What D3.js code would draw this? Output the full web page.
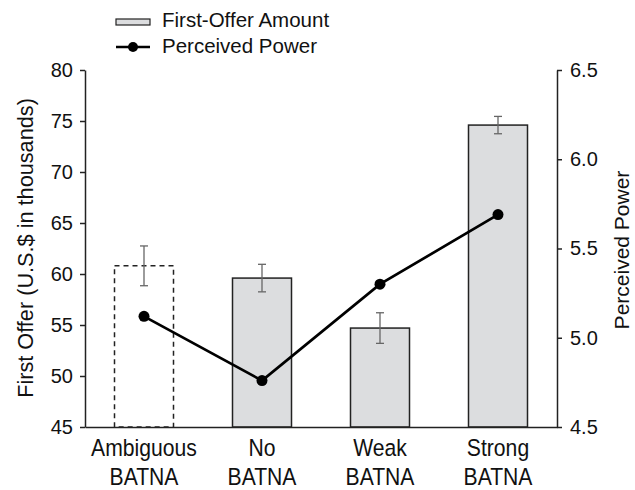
<!DOCTYPE html>
<html>
<head>
<meta charset="utf-8">
<script src="https://cdn.jsdelivr.net/npm/d3@7"></script>
<style>
  body { margin: 0; background: #fff; }
  text { font-family: "Liberation Sans", Arial, sans-serif; fill: #111; }
</style>
</head>
<body>
<svg id="chart" width="635" height="490"></svg>
<script>
// BATNA conditions
const categories = ["Ambiguous BATNA", "No BATNA", "Weak BATNA", "Strong BATNA"];
// First-offer amount (U.S.$ thousands) with standard errors
const offerMeans = [60.8, 59.6, 54.7, 74.6];
const offerErrors = [1.95, 1.35, 1.5, 0.85];
// Perceived power
const powerMeans = [5.12, 4.76, 5.30, 5.69];
const leftTicks = [45, 50, 55, 60, 65, 70, 75, 80];
const rightTicks = [4.5, 5.0, 5.5, 6.0, 6.5];

const svg = d3.select("#chart");
const plotLeft = 85, plotRight = 557, plotTop = 70, plotBottom = 427;

const x = d3.scaleBand().domain(categories).range([plotLeft, plotRight])
  .paddingInner(0.5).paddingOuter(0.25);
const yL = d3.scaleLinear().domain([45, 80]).range([plotBottom, plotTop]);
const yR = d3.scaleLinear().domain([4.5, 6.5]).range([plotBottom, plotTop]);

const tickFont = 20, labelFont = 21.7, legendFont = 20.5;

// bars
svg.append("g").selectAll("rect").data(categories).join("rect")
  .attr("x", d => x(d))
  .attr("y", (d, i) => yL(offerMeans[i]))
  .attr("width", x.bandwidth())
  .attr("height", (d, i) => yL(45) - yL(offerMeans[i]))
  .attr("fill", (d, i) => i === 0 ? "#fff" : "#dcdddf")
  .attr("stroke", "#222")
  .attr("stroke-width", 1.5)
  .attr("stroke-dasharray", (d, i) => i === 0 ? "5,4" : null);

// error bars
const eb = svg.append("g").attr("stroke", "#666").attr("stroke-width", 1.3);
categories.forEach((c, i) => {
  const cx = x(c) + x.bandwidth() / 2;
  const y1 = yL(offerMeans[i] + offerErrors[i]);
  const y2 = yL(offerMeans[i] - offerErrors[i]);
  eb.append("line").attr("x1", cx).attr("x2", cx).attr("y1", y1).attr("y2", y2);
  eb.append("line").attr("x1", cx - 4).attr("x2", cx + 4).attr("y1", y1).attr("y2", y1);
  eb.append("line").attr("x1", cx - 4).attr("x2", cx + 4).attr("y1", y2).attr("y2", y2);
});

// power line
const line = d3.line()
  .x((d, i) => x(categories[i]) + x.bandwidth() / 2)
  .y(d => yR(d));
svg.append("path").datum(powerMeans)
  .attr("d", line).attr("fill", "none").attr("stroke", "#000").attr("stroke-width", 2.7);
svg.append("g").selectAll("circle").data(powerMeans).join("circle")
  .attr("cx", (d, i) => x(categories[i]) + x.bandwidth() / 2)
  .attr("cy", d => yR(d))
  .attr("r", 5.5).attr("fill", "#000");

// axes
function styleAxis(g) {
  g.select(".domain").attr("stroke", "#222").attr("stroke-width", 1.5);
  g.selectAll(".tick line").attr("stroke", "#222").attr("stroke-width", 1.5);
  g.selectAll(".tick text").style("font-size", tickFont + "px")
    .style("font-family", "'Liberation Sans', Arial, sans-serif").attr("fill", "#111");
}
svg.append("g").attr("transform", `translate(${plotLeft},0)`)
  .call(d3.axisLeft(yL).tickValues(leftTicks).tickSize(5).tickSizeOuter(0).tickPadding(7))
  .call(styleAxis);
svg.append("g").attr("transform", `translate(${plotRight},0)`)
  .call(d3.axisRight(yR).tickValues(rightTicks).tickSize(5).tickSizeOuter(0).tickPadding(8).tickFormat(d3.format(".1f")))
  .call(styleAxis);
const xa = svg.append("g").attr("transform", `translate(0,${plotBottom})`)
  .call(d3.axisBottom(x).tickSize(0).tickSizeOuter(0).tickFormat(""));
xa.select(".domain").attr("stroke", "#222").attr("stroke-width", 1.5);

// category labels on two lines, slightly condensed
categories.forEach(c => {
  const parts = c.split(" ");
  const cx = x(c) + x.bandwidth() / 2;
  const t = svg.append("text")
    .attr("transform", `translate(${cx},0) scale(0.9,1)`)
    .attr("text-anchor", "middle")
    .style("font-size", "23.5px");
  t.append("tspan").attr("x", 0).attr("y", 456).text(parts[0]);
  t.append("tspan").attr("x", 0).attr("y", 485).text(parts[1]);
});

// axis titles
svg.append("text")
  .attr("transform", `translate(33,248) rotate(-90)`)
  .attr("text-anchor", "middle").style("font-size", labelFont + "px")
  .text("First Offer (U.S.$ in thousands)");
svg.append("text")
  .attr("transform", `translate(629,250) rotate(-90)`)
  .attr("text-anchor", "middle").style("font-size", "21px")
  .text("Perceived Power");

// legend
const lg = svg.append("g");
lg.append("rect").attr("x", 116).attr("y", 19).attr("width", 34).attr("height", 6)
  .attr("fill", "#dcdddf").attr("stroke", "#222").attr("stroke-width", 1.2);
lg.append("text").attr("x", 162).attr("y", 27).style("font-size", legendFont + "px").text("First-Offer Amount");
lg.append("line").attr("x1", 116).attr("x2", 150).attr("y1", 47).attr("y2", 47)
  .attr("stroke", "#000").attr("stroke-width", 2.5);
lg.append("circle").attr("cx", 133).attr("cy", 47).attr("r", 5).attr("fill", "#000");
lg.append("text").attr("x", 162).attr("y", 53).style("font-size", legendFont + "px").text("Perceived Power");
</script>
</body>
</html>
